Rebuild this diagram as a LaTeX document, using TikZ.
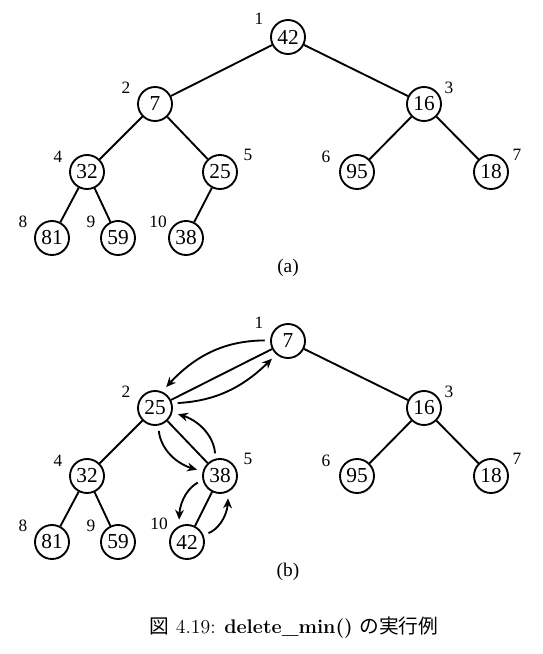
\documentclass[tikz,border=0pt]{standalone}
\usepackage{fontspec}
\newfontfamily\timesfont{Liberation Serif}
\newfontfamily\jpfont{Noto Sans CJK JP}
\usetikzlibrary{arrows.meta,bending}
\tikzset{
  key/.style ={circle, draw=black, line width=1.4pt, fill=white,
               minimum size=25.5pt, inner sep=0pt,
               font=\timesfont\fontsize{16}{16}\selectfont},
  idx/.style ={font=\timesfont\fontsize{13}{13}\selectfont, inner sep=0pt},
  edge/.style={draw=black, line width=1.4pt},
  mv/.style  ={-{Stealth[length=2.6mm, width=2.3mm]}, draw=black,
               line width=1.4pt, shorten <=4pt, shorten >=4.5pt},
  sub/.style ={font=\timesfont\fontsize{14.5}{14.5}\selectfont, inner sep=1pt}
}
\begin{document}
\begin{tikzpicture}[x=0.75pt,y=-0.75pt]
\useasboundingbox (0,0) rectangle (543,654);
%% (a): heap before delete_min
\node[key] (a42) at (288,37)  {42};
\node[key] (a7)  at (155,104) {7};
\node[key] (a16) at (424,104) {16};
\node[key] (a32) at (87,172)  {32};
\node[key] (a25) at (220,172) {25};
\node[key] (a95) at (357,172) {95};
\node[key] (a18) at (491,172) {18};
\node[key] (a81) at (52,238)  {81};
\node[key] (a59) at (118,238) {59};
\node[key] (a38) at (186,238) {38};

\draw[edge] (a42) -- (a7);
\draw[edge] (a42) -- (a16);
\draw[edge] (a7)  -- (a32);
\draw[edge] (a7)  -- (a25);
\draw[edge] (a16) -- (a95);
\draw[edge] (a16) -- (a18);
\draw[edge] (a32) -- (a81);
\draw[edge] (a32) -- (a59);
\draw[edge] (a25) -- (a38);

\node[idx] (ia1)  at (259,19)  {1};
\node[idx] (ia2)  at (126,88)  {2};
\node[idx] (ia3)  at (449,88)  {3};
\node[idx] (ia4)  at (58,157)  {4};
\node[idx] (ia5)  at (248,155) {5};
\node[idx] (ia6)  at (326,157) {6};
\node[idx] (ia7)  at (517,155) {7};
\node[idx] (ia8)  at (23,222)  {8};
\node[idx] (ia9)  at (91,222)  {9};
\node[idx] (ia10) at (158,222) {10};
\node[sub] (capa) at (288,268) {(a)};

%% (b): last key moved to the root and sifted down
\node[key] (b7)  at (288,341) {7};
\node[key] (b25) at (155,408) {25};
\node[key] (b16) at (424,408) {16};
\node[key] (b32) at (87,476)  {32};
\node[key] (b38) at (220,476) {38};
\node[key] (b95) at (357,476) {95};
\node[key] (b18) at (491,476) {18};
\node[key] (b81) at (52,542)  {81};
\node[key] (b59) at (118,542) {59};
\node[key] (b42) at (187,542) {42};

\draw[edge] (b7)  -- (b25);
\draw[edge] (b7)  -- (b16);
\draw[edge] (b25) -- (b32);
\draw[edge] (b25) -- (b38);
\draw[edge] (b16) -- (b95);
\draw[edge] (b16) -- (b18);
\draw[edge] (b32) -- (b81);
\draw[edge] (b32) -- (b59);
\draw[edge] (b38) -- (b42);

\draw[mv] (b7.178)  to[bend right=25] (b25.66);
\draw[mv] (b25.15)  to[bend right=22] (b7.228);
\draw[mv] (b25.281) to[bend right=40] (b38.162);
\draw[mv] (b38.105) to[bend right=40] (b25.-17);
\draw[mv] (b38.193) to[bend right=35] (b42.114);
\draw[mv] (b42.23)  to[bend right=40] (b38.294);

\node[idx] (ib1)  at (259,323) {1};
\node[idx] (ib2)  at (126,392) {2};
\node[idx] (ib3)  at (449,392) {3};
\node[idx] (ib4)  at (58,461)  {4};
\node[idx] (ib5)  at (248,459) {5};
\node[idx] (ib6)  at (326,461) {6};
\node[idx] (ib7)  at (517,459) {7};
\node[idx] (ib8)  at (23,526)  {8};
\node[idx] (ib9)  at (91,526)  {9};
\node[idx] (ib10) at (159,524) {10};
\node[sub] (capb) at (288,572) {(b)};

\node[font=\fontsize{14.8}{14.8}\selectfont] (fig) at (294,628)
  {{\jpfont 図} 4.19: \textbf{delete\_min()} {\jpfont の実行例}};
\end{tikzpicture}
\end{document}
